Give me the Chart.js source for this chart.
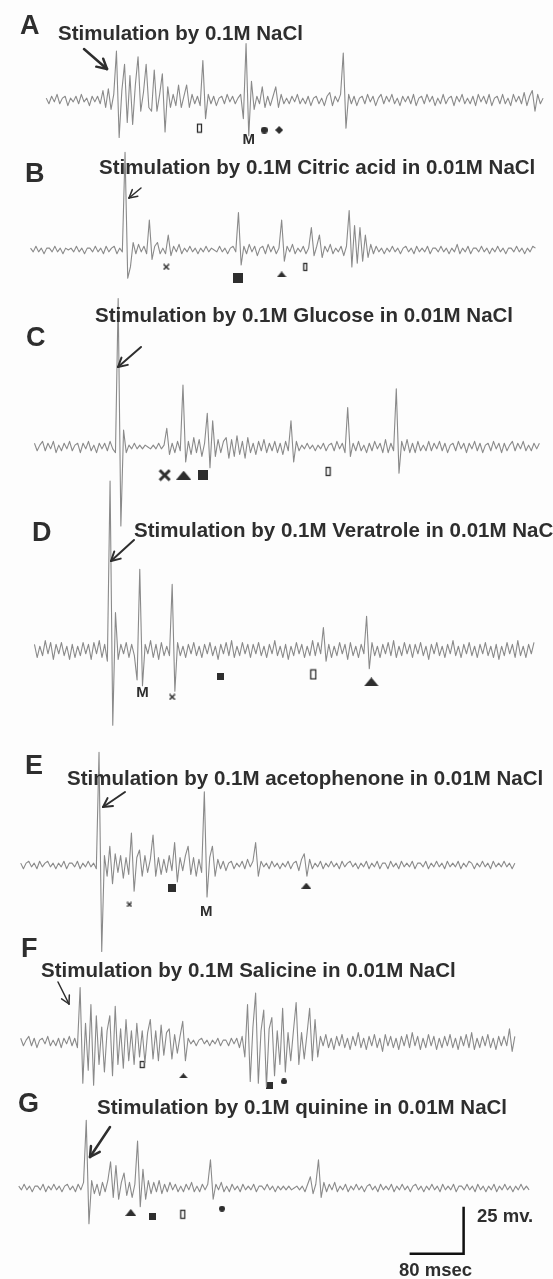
<!DOCTYPE html>
<html>
<head>
<meta charset="utf-8">
<script src="https://cdn.jsdelivr.net/npm/chart.js@4/dist/chart.umd.min.js"></script>
<style>
html, body { margin: 0; padding: 0; background: #fdfdfd; }
#fig {
    position: relative;
    width: 553px;
    height: 1279px;
    overflow: hidden;
    background: #fdfdfd;
    font-family: "Liberation Sans", Arial, sans-serif;
    color: #2e2e2e;
}
#fig canvas { position: absolute; left: 0; }
.lbl { position: absolute; white-space: nowrap; font-weight: bold; line-height: 1; }
#fig svg { position: absolute; left: 0; top: 0; }
</style>
</head>
<body>
<div id="fig"></div>
<script>
// sampling and calibration (from the 80 msec / 25 mV scale bar)
const DT = 4;                 // msec per sample
const MS_PER_PX = 80 / 55;
const MV_PER_PX = 25 / 48;
const HALF = 230;             // half height of each panel canvas, px
const INK = "#2e2e2e";
const TRACE = "#8a8a8a";

// traces, mV, one value every DT msec
const traceA = [
    1,-2,2,-1,3,-2,1,2,-3,1,
    -1,2,-2,3,-1,1,-3,2,-1,2,
    -2,5,-4,6,-5,3,26,-20,5,19,
    -12,13,-13,8,23,-6,4,19,-4,-6,
    16,-6,3,14,-17,7,-4,3,-3,8,
    -4,2,8,-4,3,-2,2,-3,21,-10,
    3,-2,2,-3,1,2,-2,3,-1,2,
    -2,1,3,-10,30,-19,10,-5,2,-2,
    7,-4,2,-3,2,7,-4,3,-2,1,
    -2,2,-1,3,-2,1,-2,2,-3,1,
    2,-2,1,-3,2,4,-3,2,-1,3,
    25,-15,3,-2,2,-3,1,2,-2,3,
    -1,2,-3,1,3,-2,2,-1,3,-2,
    1,-3,2,-1,2,-2,3,-3,1,2,
    -2,3,-1,2,-3,1,-2,3,-2,1,
    2,-3,2,-1,3,-2,1,-2,2,-3,
    3,-1,2,-2,3,-3,1,2,-2,3,
    -2,1,-3,3,-1,2,-2,4,-3,2,
    5,-6,3,-2,1
];
const traceB = [
    1,-1,2,-1,1,-2,1,1,-1,2,
    -1,1,-2,1,0,1,-1,2,-1,1,
    -2,1,1,-1,2,-1,1,-2,2,-1,
    1,2,-2,1,-1,52,-15,-9,4,-2,
    3,-1,2,-2,16,-5,2,4,-2,1,
    -2,8,-3,2,-1,3,-2,1,-1,2,
    -1,1,-2,1,-1,2,-1,1,0,-1,
    2,-1,1,-2,1,2,-1,20,-8,2,
    -2,3,-1,2,-3,1,2,-2,3,-1,
    2,-2,1,16,-6,2,-1,3,-2,1,
    -1,2,-2,1,12,-3,2,8,-4,2,
    -1,3,-2,1,-1,2,-3,2,21,-9,
    13,-7,12,-6,8,-4,3,-2,2,-1,
    1,-2,1,-1,2,-1,1,-2,1,2,
    -1,1,-2,2,-1,1,-1,2,-2,1,
    1,-1,2,-1,1,-2,1,-1,3,-2,
    1,-1,2,-2,1,1,-1,2,-1,1,
    -2,1,-1,2,-1,1,-2,1,1,-1,
    2,-1,1,-2,1,-1,2,1
];
const traceC = [
    2,-2,1,3,-2,2,-1,3,-3,1,
    -2,2,-1,3,-2,1,2,-3,2,-1,
    3,-2,1,-3,2,-1,2,-2,3,-1,
    -3,79,-42,9,-3,1,-1,2,-1,1,
    -1,1,0,-1,1,-1,2,-1,1,10,
    -4,2,-3,3,-2,33,-8,3,-4,5,
    -3,4,-5,2,18,-11,14,-5,4,-3,
    3,5,-6,4,-5,6,-4,3,-6,5,
    -3,2,-4,3,-2,4,-3,2,-2,3,
    -3,2,-4,3,-2,14,-8,3,-2,1,
    -1,2,-1,1,-2,1,-1,2,-2,1,
    2,-2,3,-1,2,-3,21,-5,2,-2,
    3,-2,1,-3,2,-2,3,-1,2,-3,
    4,-3,2,-2,31,-14,3,-2,4,-3,
    2,-3,3,-2,1,-2,3,-2,2,-1,
    3,-2,2,-3,1,2,-2,3,-1,2,
    -3,2,-1,3,-2,2,-3,1,2,-2,
    3,-1,2,-3,2,-2,1,3,-2,2,
    -1,3,-2,1,-2,2,-1,2
];
const traceD = [
    3,-4,2,-3,5,-2,4,-5,3,-2,
    4,-3,2,-5,3,-4,2,-3,4,-2,
    3,-5,4,-2,5,-4,3,-6,90,-40,
    20,-5,3,-2,4,-4,3,-3,-16,43,
    -19,3,-2,5,-4,3,-5,4,-3,2,
    -3,35,-22,4,-3,2,-4,3,-2,4,
    -3,2,-4,3,-2,4,-3,2,-5,3,
    -2,4,-3,5,-4,2,-3,4,-2,3,
    -4,3,-2,4,-3,2,-4,3,-2,5,
    -3,2,-4,3,-5,2,-3,4,-2,3,
    -4,2,-3,5,-3,4,-2,12,-6,3,
    -4,2,-3,4,-2,3,-5,4,-3,2,
    -4,3,-2,18,-10,4,-3,2,-4,3,
    -2,4,-3,5,-4,2,-3,4,-2,3,
    -4,3,-2,4,-3,2,-5,3,-2,4,
    -3,2,-4,3,-2,5,-3,2,-4,3,
    -2,4,-3,2,-4,3,-2,4,-3,2,
    -4,3,-5,2,-3,4,-2,3,-4,5,
    -3,2,-4,3,-2,4
];
const traceE = [
    1,-2,1,2,-1,1,-2,2,-1,1,
    2,-1,1,-2,1,-1,2,-2,1,1,
    -1,2,-2,1,-1,2,-1,1,-2,60,
    -46,5,-6,10,-10,6,-4,5,-7,4,
    -5,17,-14,4,8,-6,5,-4,3,16,
    -6,4,-5,3,-4,5,-3,12,-9,4,
    -3,5,10,-5,4,-6,3,-4,39,-17,
    4,10,-6,3,-2,2,-3,1,2,-2,
    1,-1,2,-2,3,-1,2,12,-6,2,
    -1,1,-2,2,-1,1,-2,1,-1,2,
    -2,1,2,-3,3,6,-6,3,-2,1,
    -1,2,-2,1,-1,2,-1,1,-2,2,
    -1,1,2,-1,1,-2,1,-1,2,-2,
    1,-1,2,-2,1,1,-2,2,-1,1,
    -2,2,-1,1,-1,2,-2,1,1,-1,
    2,-2,1,-1,2,-1,1,-2,2,-1,
    1,-1,2,-2,1,-1,2,1,-2,1,
    -1,2,-1,1,-2,2,-1,1,-1,2,
    -1,1,-2,1
];
const traceF = [
    2,-2,1,3,-2,2,-3,1,2,-1,
    3,-2,1,-2,2,-3,2,-1,3,-2,
    2,-3,29,-22,10,-15,20,-23,14,-12,
    8,-16,6,14,-18,19,-12,7,-14,12,
    -10,6,-12,10,-8,6,-11,5,12,-9,
    6,-10,9,-7,5,7,-9,4,-6,3,
    11,-10,2,-1,1,-2,1,2,-1,1,
    -2,1,-1,2,-2,1,1,-2,2,-1,
    2,-3,3,-8,20,-21,8,26,-22,6,
    17,-24,7,13,-18,6,-12,18,-16,5,
    -10,6,21,-12,5,-9,4,18,-10,12,
    -8,3,-2,4,-3,2,-4,3,-2,4,
    -3,2,-4,3,-2,5,-3,2,-4,3,
    -2,4,-3,2,-5,4,-2,3,-3,2,
    -4,3,-2,4,-3,5,-2,3,-4,2,
    -3,4,-2,3,-4,2,-3,3,-2,4,
    -3,2,-4,3,-2,4,-3,5,-4,2,
    -3,3,-2,4,-3,2,-4,3,-2,3,
    -2,7,-5,3
];
const traceG = [
    1,-1,2,-1,1,-2,1,1,-1,2,
    -2,1,-1,2,-1,1,-2,1,2,-1,
    1,-2,2,-1,3,36,-19,4,-3,2,
    -4,3,-2,4,14,-5,12,-6,3,8,
    -4,3,-5,2,25,-10,10,-6,4,-3,
    3,-2,4,-3,2,-2,3,-1,2,-2,
    1,-2,2,-1,3,-2,1,-2,2,-1,
    2,15,-6,2,-1,3,-2,1,-2,2,
    -1,1,-2,2,-1,1,-1,2,-2,1,
    1,-1,2,-1,1,-2,1,-1,1,-1,
    1,-1,0,1,-1,1,-2,2,6,-3,
    2,15,-5,3,-2,2,-1,3,-2,1,
    -1,2,-2,1,-1,2,-1,1,-2,1,
    2,-1,1,-2,2,-1,1,-1,2,-2,
    1,-1,2,-1,1,-2,1,2,-1,1,
    -2,1,-1,2,-1,1,-2,2,-1,1,
    -1,2,-2,1,1,-1,2,-1,1,-2,
    2,-1,1,-2,1,-1,2,-2,1,-1,
    2,-1,1,-2,1,-1,2,-1,1,-1
];

// spike markers: [msec, mV, kind]
const marksA = [[227,-15,"box"],[300,-21,"M"],[323,-16,"dot"],[345,-16,"diamond"]];
const marksB = [[201,-9,"cross"],[307,-15,"square"],[372,-13,"tri"],[407,-9,"box"]];
const marksC = [[193,-15,"cross"],[221,-15,"tri"],[250,-15,"square"],[435,-13,"box"]];
const marksD = [[160,-23,"M"],[204,-25,"cross"],[275,-14,"square"],[413,-13,"box"],[499,-17,"tri"]];
const marksE = [[161,-21,"cross"],[224,-12,"square"],[275,-25,"M"],[423,-11,"tri"]];
const marksF = [[180,-12,"box"],[241,-18,"tri"],[368,-23,"square"],[390,-21,"dot"]];
const marksG = [[166,-13,"tri"],[198,-15,"square"],[243,-14,"box"],[301,-11,"dot"]];

const titles = [
    "Stimulation by 0.1M NaCl",
    "Stimulation by 0.1M Citric acid in 0.01M NaCl",
    "Stimulation by 0.1M Glucose in 0.01M NaCl",
    "Stimulation by 0.1M Veratrole in 0.01M NaCl",
    "Stimulation by 0.1M acetophenone in 0.01M NaCl",
    "Stimulation by 0.1M Salicine in 0.01M NaCl",
    "Stimulation by 0.1M quinine in 0.01M NaCl"
];
const letters = ["A", "B", "C", "D", "E", "F", "G"];
const scaleMs = 80, scaleMv = 25;

// layout: trace start x, baseline y, letter/title/arrow placement, glyph sizes
const panels = [
    { trace: traceA, marks: marksA, x0: 42, base: 100, letter: [20, 35], title: [58, 40],
      arrow: [84, 49, 107, 69, 2.5], size: { box: [5, 9], dot: 7, diamond: 8 } },
    { trace: traceB, marks: marksB, x0: 26, base: 250, letter: [25, 183], title: [99, 174],
      arrow: [141, 188, 129, 198, 1.5], size: { cross: 7, square: 10, tri: 10, box: [4, 8] } },
    { trace: traceC, marks: marksC, x0: 30, base: 447, letter: [26, 347], title: [95, 322],
      arrow: [141, 347, 118, 367, 2], size: { cross: 13, tri: 15, square: 10, box: [5, 9] } },
    { trace: traceD, marks: marksD, x0: 30, base: 650, letter: [32, 542], title: [134, 537],
      arrow: [134, 540, 111, 561, 2], size: { cross: 7, square: 7, box: [6, 10], tri: 15 } },
    { trace: traceE, marks: marksE, x0: 16, base: 865, letter: [25, 775], title: [67, 785],
      arrow: [125, 792, 103, 807, 2], size: { cross: 6, square: 8, tri: 10 } },
    { trace: traceF, marks: marksF, x0: 16, base: 1042, letter: [21, 958], title: [41, 977],
      arrow: [58, 982, 69, 1004, 1.5], size: { box: [5, 7], tri: 9, square: 7, dot: 6 } },
    { trace: traceG, marks: marksG, x0: 14, base: 1188, letter: [18, 1113], title: [97, 1114],
      arrow: [110, 1127, 90, 1157, 2.5], size: { tri: 11, square: 7, box: [5, 9], dot: 6 },
      bar: [579, -35] }
];

const fig = document.getElementById("fig");

function glyph(kind, s) {
    const c = document.createElement("canvas");
    let w, h;
    if (kind === "box") { w = s[0] + 2; h = s[1] + 2; }
    else if (kind === "tri") { w = s; h = Math.round(s * 0.6); }
    else { w = h = s; }
    c.width = w; c.height = h;
    const g = c.getContext("2d");
    g.fillStyle = g.strokeStyle = INK;
    g.beginPath();
    if (kind === "box") {
        g.lineWidth = 1.3;
        g.strokeRect(1.5, 1.5, s[0] - 1, s[1] - 1);
    } else if (kind === "square") {
        g.fillRect(0, 0, w, h);
    } else if (kind === "tri") {
        g.moveTo(w / 2, 0); g.lineTo(w, h); g.lineTo(0, h); g.closePath(); g.fill();
    } else if (kind === "dot") {
        g.arc(w / 2, h / 2, w / 2, 0, Math.PI * 2); g.fill();
    } else if (kind === "diamond") {
        g.moveTo(w / 2, 0); g.lineTo(w, h / 2); g.lineTo(w / 2, h); g.lineTo(0, h / 2); g.closePath(); g.fill();
    } else if (kind === "cross") {
        const lw = s > 10 ? 3 : 1.5;
        g.lineWidth = lw;
        g.moveTo(lw / 2, lw / 2); g.lineTo(w - lw / 2, h - lw / 2);
        g.moveTo(w - lw / 2, lw / 2); g.lineTo(lw / 2, h - lw / 2);
        g.stroke();
    }
    return c;
}

// draws the "M" spike labels at their data points
const letterMarks = {
    id: "letterMarks",
    afterDatasetsDraw(chart) {
        const ctx = chart.ctx;
        chart.data.datasets.forEach((ds, i) => {
            if (!ds.letter) return;
            chart.getDatasetMeta(i).data.forEach(pt => {
                ctx.save();
                ctx.fillStyle = INK;
                ctx.font = "bold 15px 'Liberation Sans', Arial, sans-serif";
                ctx.textAlign = "center";
                ctx.textBaseline = "middle";
                ctx.fillText(ds.letter, pt.x, pt.y);
                ctx.restore();
            });
        });
    }
};

panels.forEach(p => {
    const canvas = document.createElement("canvas");
    canvas.width = 553;
    canvas.height = HALF * 2;
    canvas.style.top = (p.base - HALF) + "px";
    fig.appendChild(canvas);

    const datasets = [{
        data: p.trace.map((v, i) => ({ x: i * DT, y: v })),
        borderColor: TRACE,
        borderWidth: 1.1,
        borderJoinStyle: "round",
        pointRadius: 0,
        tension: 0
    }];
    p.marks.forEach(([t, v, kind]) => {
        if (kind === "M") {
            datasets.push({ data: [{ x: t, y: v }], letter: "M", showLine: false, pointRadius: 0 });
        } else {
            datasets.push({
                data: [{ x: t, y: v }],
                showLine: false,
                pointStyle: glyph(kind, p.size[kind]),
                pointRadius: 4
            });
        }
    });
    if (p.bar) {
        const [t0, v0] = p.bar;
        datasets.push({
            data: [{ x: t0, y: v0 }, { x: t0 + scaleMs, y: v0 }, { x: t0 + scaleMs, y: v0 + scaleMv }],
            borderColor: "#111",
            borderWidth: 2.5,
            pointRadius: 0,
            tension: 0
        });
    }

    new Chart(canvas.getContext("2d"), {
        type: "line",
        data: { datasets },
        options: {
            responsive: false,
            animation: false,
            devicePixelRatio: 1,
            events: [],
            layout: { padding: 0 },
            plugins: { legend: { display: false }, tooltip: { enabled: false } },
            scales: {
                x: { type: "linear", display: false, min: -p.x0 * MS_PER_PX, max: (553 - p.x0) * MS_PER_PX },
                y: { display: false, min: -HALF * MV_PER_PX, max: HALF * MV_PER_PX }
            }
        },
        plugins: [letterMarks]
    });
});

// text labels: [text, x, baseline, size]
const labels = [];
panels.forEach((p, i) => {
    labels.push([letters[i], p.letter[0], p.letter[1], 27]);
    labels.push([titles[i], p.title[0], p.title[1], 20.5]);
});
labels.push(["25 mv.", 477, 1223, 18.5]);
labels.push(["80 msec", 399, 1277, 18.5]);
labels.forEach(([text, x, y, size]) => {
    const d = document.createElement("div");
    d.className = "lbl";
    d.textContent = text;
    d.style.left = x + "px";
    d.style.top = (y - 0.8465 * size) + "px";
    d.style.fontSize = size + "px";
    fig.appendChild(d);
});

// pointer arrows
const NS = "http://www.w3.org/2000/svg";
const svg = document.createElementNS(NS, "svg");
svg.setAttribute("width", 553);
svg.setAttribute("height", 1279);
fig.appendChild(svg);
function seg(x1, y1, x2, y2, w) {
    const l = document.createElementNS(NS, "line");
    l.setAttribute("x1", x1); l.setAttribute("y1", y1);
    l.setAttribute("x2", x2); l.setAttribute("y2", y2);
    l.setAttribute("stroke", INK);
    l.setAttribute("stroke-width", w);
    l.setAttribute("stroke-linecap", "round");
    svg.appendChild(l);
}
panels.forEach(p => {
    const [x1, y1, x2, y2, w] = p.arrow;
    seg(x1, y1, x2, y2, w);
    const a = Math.atan2(y2 - y1, x2 - x1);
    const len = 6 + w * 2;
    [-0.5, 0.5].forEach(d => {
        seg(x2, y2, x2 + len * Math.cos(a + Math.PI + d), y2 + len * Math.sin(a + Math.PI + d), w);
    });
});
</script>
</body>
</html>
